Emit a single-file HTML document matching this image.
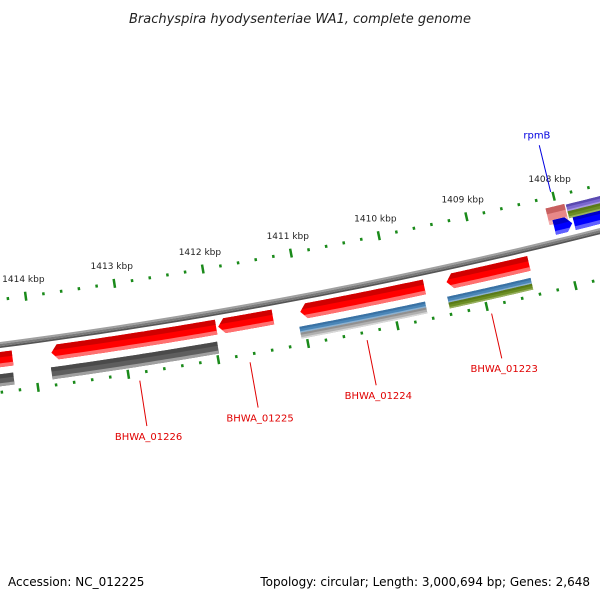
<!DOCTYPE html>
<html><head><meta charset="utf-8"><style>
html,body{margin:0;padding:0;background:#fff;}
svg{display:block;font-family:"DejaVu Sans","Liberation Sans",sans-serif;}
</style></head><body>
<svg id="map" width="600" height="600" viewBox="0 0 600 600" xmlns="http://www.w3.org/2000/svg">
<defs id="defs"></defs>
<text x="300" y="23" text-anchor="middle" font-size="13" font-style="italic" fill="#222">Brachyspira hyodysenteriae WA1, complete genome</text>
<g id="layer"></g>
<text x="8" y="586" font-size="12" fill="#000">Accession: NC_012225</text>
<text x="590" y="586" font-size="12" text-anchor="end" fill="#000">Topology: circular; Length: 3,000,694 bp; Genes: 2,648</text>
</svg>
<script>
// ---- data ----
const geneNames = ['BHWA_01227','BHWA_01226','BHWA_01225','BHWA_01224','BHWA_01223'];
const geneStart = [1414235,1411963,1411327,1409623,1408441];
const geneEnd   = [1414800,1413803,1411940,1411020,1409373];
const geneLabelBp = [null,1412886,1411662,1410358,1408964];
const row2Start = [1414250,1411980,1409650,1408460];
const row2End   = [1414800,1413830,1411060,1409400];
const row2Kind  = ['gray','gray','blue-gray','blue-green'];
const innerGeneName = 'rpmB';
const innerLabelBp = 1408021;
const tickKbp = [1408,1409,1410,1411,1412,1413,1414];

// ---- geometry ----
const NS='http://www.w3.org/2000/svg';
const CX=-667, CY=-4807, R0=5195, REF=1411000, K=1.7398e-5, PHI0=79.28*Math.PI/180;
const ang = bp => PHI0 + (bp-REF)*K;
const pt = (bp,r) => [CX + r*Math.cos(ang(bp)), CY + r*Math.sin(ang(bp))];
const layer=document.getElementById('layer'), defs=document.getElementById('defs');
function arcPts(b1,b2,r){const p=[];const n=40;for(let i=0;i<=n;i++){const b=b1+(b2-b1)*i/n;p.push(pt(b,r));}return p;}
function bandPath(b1,b2,r1,r2,arrow){
  const ah=70; let p=[];
  let s=b1,e=b2;
  if(arrow==='hi') e=b2-ah; if(arrow==='lo') s=b1+ah;
  p=p.concat(arcPts(s,e,r1));
  if(arrow==='hi') p.push(pt(b2,(r1+r2)/2));
  p=p.concat(arcPts(e,s,r2));
  if(arrow==='lo') p.push(pt(b1,(r1+r2)/2));
  return 'M'+p.map(q=>q[0].toFixed(2)+','+q[1].toFixed(2)).join('L')+'Z';
}
let cid=0;
function feature(name,b1,b2,r1,r2,arrow,cTop,cMid,cBot){
  const g=document.createElementNS(NS,'g');
  
  
  const d=bandPath(b1,b2,r1,r2,arrow);
  const id='clip'+(cid++);
  const cp=document.createElementNS(NS,'clipPath');cp.setAttribute('id',id);
  const cpp=document.createElementNS(NS,'path');cpp.setAttribute('d',d);cp.appendChild(cpp);defs.appendChild(cp);
  const base=document.createElementNS(NS,'path');base.setAttribute('d',d);base.setAttribute('fill',cMid);g.appendChild(base);
  const h=r2-r1;
  const top=document.createElementNS(NS,'path');top.setAttribute('d',bandPath(b1-200,b2+200,r1-2,r1+h*0.35,null));top.setAttribute('fill',cTop);top.setAttribute('clip-path','url(#'+id+')');g.appendChild(top);
  const bot=document.createElementNS(NS,'path');bot.setAttribute('d',bandPath(b1-200,b2+200,r2-h*0.25,r2+2,null));bot.setAttribute('fill',cBot);bot.setAttribute('clip-path','url(#'+id+')');g.appendChild(bot);
  layer.appendChild(g);
}
// backbone
(function(){
  const g=document.createElementNS(NS,'g');
  
  
  [[R0-3,R0-1,'#a0a0a0'],[R0-1,R0+1.2,'#7a7a7a'],[R0+1.2,R0+3,'#555555']].forEach(s=>{
    const p=document.createElementNS(NS,'path');p.setAttribute('d',bandPath(1406500,1415500,s[0],s[1],null));p.setAttribute('fill',s[2]);g.appendChild(p);
  });
  layer.appendChild(g);
})();
// ticks
function tickRing(r,name){
  const g=document.createElementNS(NS,'g');
  
  
  for(let b=1406800;b<=1415200;b+=200){
    const major=(b%1000===0);
    const a=pt(b,r-(major?4.5:1.5)), c=pt(b,r+(major?4.5:1.5));
    const l=document.createElementNS(NS,'line');
    l.setAttribute('x1',a[0]);l.setAttribute('y1',a[1]);l.setAttribute('x2',c[0]);l.setAttribute('y2',c[1]);
    l.setAttribute('stroke','#1a8a1a');l.setAttribute('stroke-width',2.5);
    g.appendChild(l);
  }
  layer.appendChild(g);
}
tickRing(R0-45,'inner-tick-ring');
tickRing(R0+47,'outer-tick-ring');
tickKbp.forEach(k=>{
  const p=pt(k*1000,R0-62);
  const t=document.createElementNS(NS,'text');
  
  
  t.setAttribute('x',p[0]);t.setAttribute('y',p[1]);t.setAttribute('font-size','9');t.setAttribute('text-anchor','middle');t.setAttribute('dominant-baseline','middle');t.setAttribute('fill','#222');
  t.textContent=k+' kbp';layer.appendChild(t);
});
// outer CDS row
geneNames.forEach((n,i)=>{
  feature('gene-'+n.toLowerCase().replace('_','-'),geneStart[i],geneEnd[i],R0+7,R0+22,'hi','#d00000','#ff0000','#ff7070');
});
// rows 2/3
row2Start.forEach((s,i)=>{
  const e=row2End[i], k=row2Kind[i];
  if(k==='gray'){feature('feature-gray-'+i,s,e,R0+29,R0+41,null,'#4a4a4a','#5e5e5e','#a0a0a0');}
  else{
    feature('feature-blue-'+i,s,e,R0+29,R0+35,null,'#3a72a4','#4a86b8','#8ab0d0');
    if(k==='blue-gray') feature('feature-lightgray-'+i,s,e,R0+35,R0+41,null,'#909090','#b0b0b0','#d8d8d8');
    else feature('feature-green-'+i,s,e,R0+35,R0+41,null,'#5a7a18','#6b8e23','#98b060');
  }
});
// inner features
feature('feature-pink',1407905,1408120,R0-35,R0-18,null,'#c86060','#e88888','#f4b0b0');
feature('gene-rpmb',1407870,1408075,R0-22,R0-7,'lo','#0000c8','#0000ff','#6060ff');
feature('gene-blue-next',1406700,1407850,R0-22,R0-7,null,'#0000c8','#0000ff','#6060ff');
feature('feature-purple',1406700,1407890,R0-34,R0-27,null,'#5a4ab0','#7b68d0','#a898e0');
feature('feature-green-inner',1406700,1407890,R0-27,R0-20,null,'#5a7a18','#6b8e23','#98b060');
// labels
function label(name,bp,r1,r2,rt,text,color){
  const a=pt(bp,r1),b=pt(bp,r2),c=pt(bp,rt);
  const l=document.createElementNS(NS,'line');
  
  
  l.setAttribute('x1',a[0]);l.setAttribute('y1',a[1]);l.setAttribute('x2',b[0]);l.setAttribute('y2',b[1]);l.setAttribute('stroke',color);l.setAttribute('stroke-width','1');
  layer.appendChild(l);
  const t=document.createElementNS(NS,'text');
  
  
  t.setAttribute('x',c[0]);t.setAttribute('y',c[1]);t.setAttribute('font-size','10');t.setAttribute('text-anchor','middle');t.setAttribute('dominant-baseline','middle');t.setAttribute('fill',color);
  t.textContent=text;layer.appendChild(t);
}
geneNames.forEach((n,i)=>{ if(geneLabelBp[i]!==null) label('label-'+n.toLowerCase().replace('_','-'),geneLabelBp[i],R0+55,R0+101,R0+112,n,'#e00000'); });
label('label-rpmb',innerLabelBp,R0-50,R0-98,R0-108,innerGeneName,'#0000e0');
</script>
</body></html>
